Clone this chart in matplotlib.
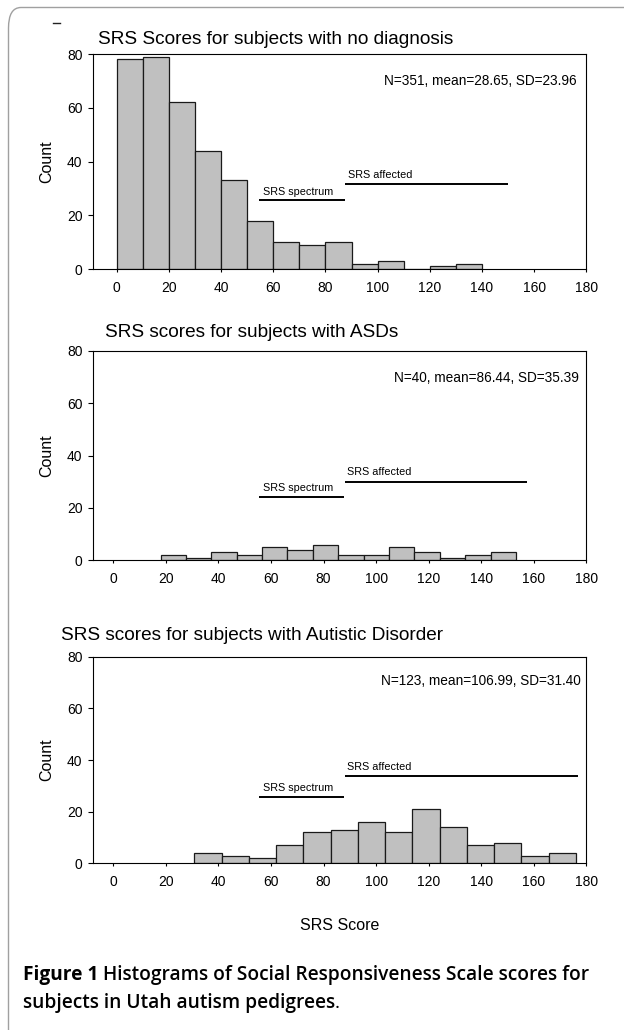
import matplotlib
matplotlib.use('Agg')
import matplotlib.pyplot as plt
import numpy as np
from matplotlib.patches import FancyBboxPatch
from matplotlib.lines import Line2D

W, H, DPI = 624, 1030, 100

# ---------------- data ----------------
titles = ["SRS Scores for subjects with no diagnosis",
          "SRS scores for subjects with ASDs",
          "SRS scores for subjects with Autistic Disorder"]
stats = ["N=351, mean=28.65, SD=23.96",
         "N=40, mean=86.44, SD=35.39",
         "N=123, mean=106.99, SD=31.40"]

counts_none = [78, 79, 62, 44, 33, 18, 10, 9, 10, 2, 3, 0, 1, 2]
range_none = (0.0, 140.0)
counts_asd = [2, 1, 3, 2, 5, 4, 6, 2, 2, 5, 3, 1, 2, 3]
range_asd = (18.0, 153.2)
counts_ad = [4, 3, 2, 7, 12, 13, 16, 12, 21, 14, 7, 8, 3, 4]
range_ad = (30.9, 176.0)

spectrum_label = "SRS spectrum"
affected_label = "SRS affected"
spectrum_x = [(54.4, 87.4), (55.4, 87.8), (55.4, 87.8)]
spectrum_y = [25.6, 24.2, 25.8]
affected_x = [(87.4, 149.9), (88.0, 157.5), (88.0, 176.8)]
affected_y = [31.6, 30.0, 33.8]

xticks = [0, 20, 40, 60, 80, 100, 120, 140, 160, 180]
yticks = [0, 20, 40, 60, 80]
xlabel = "SRS Score"
ylabel = "Count"
caption_bold = "Figure 1"
caption_rest1 = " Histograms of Social Responsiveness Scale scores for"
caption_rest2 = "subjects in Utah autism pedigrees"

# ---------------- layout ----------------
plt.rcParams['font.family'] = ['Liberation Sans', 'DejaVu Sans']
fig = plt.figure(figsize=(W / DPI, H / DPI), dpi=DPI)
fig.patch.set_facecolor('white')

def fx(px):
    return px / W

def fy(py):
    return 1 - py / H

# (left, top, right, bottom) in pixels
boxes = [(93.2, 54.0, 586.4, 269.0),
         (93.2, 350.7, 586.4, 560.3),
         (93.2, 656.7, 586.4, 863.3)]
xlefts = [-9.0, -7.6, -7.6]
title_pos = [(98, 43.5), (105, 337.0), (61, 639.5)]
stat_off = [(-10, -27), (-8, -27), (-6, -24)]

datasets = [(counts_none, range_none), (counts_asd, range_asd), (counts_ad, range_ad)]

for i, (l, t, r, b) in enumerate(boxes):
    ax = fig.add_axes([fx(l), fy(b), (r - l) / W, (b - t) / H])
    counts, (lo, hi) = datasets[i]
    edges = np.linspace(lo, hi, len(counts) + 1)
    ax.bar(edges[:-1], counts, width=np.diff(edges), align='edge',
           facecolor='#c0c0c0', edgecolor='#1a1a1a', linewidth=0.9, zorder=2)
    ax.set_xlim(xlefts[i], 180)
    ax.set_ylim(0, 80)
    ax.set_xticks(xticks)
    ax.set_yticks(yticks)
    ax.tick_params(axis='x', direction='out', length=2.4, width=0.8, pad=6, labelsize=10)
    ax.tick_params(axis='y', direction='out', length=3.7, width=0.8, pad=4, labelsize=10)
    for s in ax.spines.values():
        s.set_linewidth(0.8)
        s.set_color('black')
    ax.set_ylabel(ylabel, fontsize=11.5)
    ax.yaxis.set_label_coords((54 - l) / (r - l), 0.5)

    # range bars
    ax.plot(spectrum_x[i], [spectrum_y[i]] * 2, color='black', lw=1.4, solid_capstyle='butt', zorder=3)
    ax.plot(affected_x[i], [affected_y[i]] * 2, color='black', lw=1.4, solid_capstyle='butt', zorder=3)
    ax.annotate(spectrum_label, xy=(spectrum_x[i][0], spectrum_y[i]), xytext=(3, 4),
                textcoords='offset points', fontsize=7.8, ha='left', va='baseline')
    ax.annotate(affected_label, xy=(affected_x[i][0], affected_y[i]), xytext=(2, 4.5),
                textcoords='offset points', fontsize=7.8, ha='left', va='baseline')
    ax.annotate(stats[i], xy=(1, 1), xycoords='axes fraction', xytext=stat_off[i],
                textcoords='offset pixels', fontsize=9.8, ha='right', va='center')

    tx, ty = title_pos[i]
    fig.text(fx(tx), fy(ty), titles[i], fontsize=13.7, ha='left', va='baseline')

fig.text(fx(340), fy(925), xlabel, fontsize=11.5, ha='center', va='center')

# caption
CAP_FONT = ['Open Sans', 'DejaVu Sans']
CAP_SIZE = 13.8
cap_y1, cap_y2 = 980, 1008
t1 = fig.text(fx(23), fy(cap_y1), caption_bold, fontsize=CAP_SIZE, family=CAP_FONT,
              fontweight='bold', ha='left', va='baseline')
fig.canvas.draw()
bb = t1.get_window_extent()
fig.text(bb.x1 / W, fy(cap_y1), caption_rest1, fontsize=CAP_SIZE, family=CAP_FONT,
         fontweight='semibold', ha='left', va='baseline')
t3 = fig.text(fx(23), fy(cap_y2), caption_rest2, fontsize=CAP_SIZE, family=CAP_FONT,
              fontweight='semibold', ha='left', va='baseline')
fig.canvas.draw()
bb3 = t3.get_window_extent()
fig.text(bb3.x1 / W, fy(cap_y2), ".", fontsize=CAP_SIZE, family=CAP_FONT,
         fontweight='normal', ha='left', va='baseline')

# frame around figure
frame = FancyBboxPatch((fx(8.5), fy(1060)), fx(640), (1060 - 7.5) / H,
                       boxstyle='round,pad=0,rounding_size=0.02', transform=fig.transFigure,
                       facecolor='none', edgecolor='#a0a0a0', linewidth=1.0, clip_on=False)
fig.add_artist(frame)
fig.add_artist(Line2D([fx(53), fx(60)], [fy(23), fy(23)], color='#222', lw=1.0))

fig.savefig('out.png', dpi=DPI, facecolor='white')
